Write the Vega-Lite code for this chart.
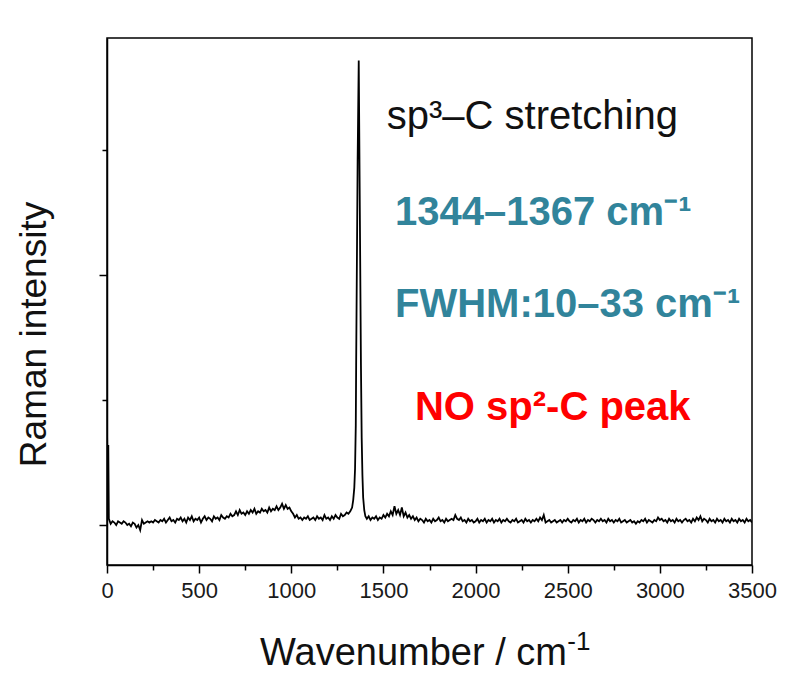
{
 "$schema": "https://vega.github.io/schema/vega-lite/v6.json",
 "width": 645,
 "height": 527,
 "autosize": {"type": "none"},
 "padding": {"left": 107, "top": 38, "right": 36, "bottom": 117},
 "background": "white",
 "config": {"view": {"stroke": "black", "strokeWidth": 1.5}, "font": "Liberation Sans"},
 "datasets": {
  "spectrum": [
   {"w":0,"i":0.77},{"w":4,"i":0.30},{"w":7,"i":0.64},{"w":10,"i":0.05},{"w":20,"i":0.01},{"w":30,"i":0.03},{"w":40,"i":0.02},{"w":50,"i":0.00},{"w":60,"i":0.03},{"w":70,"i":0.02},{"w":80,"i":0.01},{"w":90,"i":0.03},{"w":100,"i":0.02},{"w":110,"i":0.00},{"w":120,"i":0.01},{"w":130,"i":-0.01},{"w":140,"i":0.02},{"w":150,"i":0.01},{"w":160,"i":-0.02},{"w":170,"i":0.00},{"w":180,"i":-0.04},{"w":190,"i":0.04},{"w":200,"i":0.01},{"w":210,"i":0.02},{"w":220,"i":0.03},{"w":230,"i":0.02},{"w":240,"i":0.03},{"w":250,"i":0.02},{"w":260,"i":0.04},{"w":270,"i":0.03},{"w":280,"i":0.02},{"w":290,"i":0.04},{"w":300,"i":0.03},{"w":310,"i":0.05},{"w":320,"i":0.02},{"w":330,"i":0.04},{"w":340,"i":0.06},{"w":350,"i":0.03},{"w":360,"i":0.04},{"w":370,"i":0.02},{"w":380,"i":0.05},{"w":390,"i":0.04},{"w":400,"i":0.06},{"w":410,"i":0.03},{"w":420,"i":0.05},{"w":430,"i":0.02},{"w":440,"i":0.06},{"w":450,"i":0.04},{"w":460,"i":0.07},{"w":470,"i":0.03},{"w":480,"i":0.05},{"w":490,"i":0.04},{"w":500,"i":0.06},{"w":510,"i":0.02},{"w":520,"i":0.05},{"w":530,"i":0.07},{"w":540,"i":0.04},{"w":550,"i":0.06},{"w":560,"i":0.05},{"w":570,"i":0.03},{"w":580,"i":0.07},{"w":590,"i":0.05},{"w":600,"i":0.06},{"w":610,"i":0.04},{"w":620,"i":0.08},{"w":630,"i":0.06},{"w":640,"i":0.05},{"w":650,"i":0.07},{"w":660,"i":0.06},{"w":670,"i":0.09},{"w":680,"i":0.07},{"w":690,"i":0.08},{"w":700,"i":0.11},{"w":710,"i":0.08},{"w":720,"i":0.12},{"w":730,"i":0.09},{"w":740,"i":0.10},{"w":750,"i":0.08},{"w":760,"i":0.11},{"w":770,"i":0.09},{"w":780,"i":0.12},{"w":790,"i":0.10},{"w":800,"i":0.13},{"w":810,"i":0.09},{"w":820,"i":0.11},{"w":830,"i":0.10},{"w":840,"i":0.13},{"w":850,"i":0.11},{"w":860,"i":0.12},{"w":870,"i":0.10},{"w":880,"i":0.14},{"w":890,"i":0.11},{"w":900,"i":0.13},{"w":910,"i":0.12},{"w":920,"i":0.15},{"w":930,"i":0.12},{"w":940,"i":0.14},{"w":950,"i":0.17},{"w":960,"i":0.13},{"w":970,"i":0.16},{"w":980,"i":0.13},{"w":990,"i":0.14},{"w":1000,"i":0.11},{"w":1010,"i":0.09},{"w":1020,"i":0.06},{"w":1030,"i":0.08},{"w":1040,"i":0.05},{"w":1050,"i":0.06},{"w":1060,"i":0.04},{"w":1070,"i":0.06},{"w":1080,"i":0.05},{"w":1090,"i":0.07},{"w":1100,"i":0.04},{"w":1110,"i":0.05},{"w":1120,"i":0.06},{"w":1130,"i":0.04},{"w":1140,"i":0.07},{"w":1150,"i":0.05},{"w":1160,"i":0.06},{"w":1170,"i":0.04},{"w":1180,"i":0.08},{"w":1190,"i":0.05},{"w":1200,"i":0.06},{"w":1210,"i":0.04},{"w":1220,"i":0.07},{"w":1230,"i":0.05},{"w":1240,"i":0.08},{"w":1250,"i":0.06},{"w":1260,"i":0.05},{"w":1270,"i":0.09},{"w":1280,"i":0.07},{"w":1290,"i":0.08},{"w":1300,"i":0.10},{"w":1310,"i":0.09},{"w":1320,"i":0.11},{"w":1330,"i":0.14},{"w":1336,"i":0.2},{"w":1342,"i":0.3},{"w":1346,"i":0.45},{"w":1350,"i":0.8},{"w":1352,"i":1.28},{"w":1360,"i":2.92},{"w":1366,"i":3.72},{"w":1370,"i":2.92},{"w":1378,"i":1.28},{"w":1382,"i":0.7},{"w":1386,"i":0.4},{"w":1390,"i":0.22},{"w":1396,"i":0.12},{"w":1402,"i":0.07},{"w":1410,"i":0.05},{"w":1420,"i":0.07},{"w":1430,"i":0.04},{"w":1440,"i":0.06},{"w":1450,"i":0.05},{"w":1460,"i":0.07},{"w":1470,"i":0.04},{"w":1480,"i":0.06},{"w":1490,"i":0.05},{"w":1500,"i":0.08},{"w":1510,"i":0.06},{"w":1520,"i":0.09},{"w":1530,"i":0.07},{"w":1540,"i":0.11},{"w":1550,"i":0.08},{"w":1560,"i":0.15},{"w":1570,"i":0.09},{"w":1580,"i":0.12},{"w":1590,"i":0.08},{"w":1600,"i":0.14},{"w":1610,"i":0.07},{"w":1620,"i":0.10},{"w":1630,"i":0.06},{"w":1640,"i":0.08},{"w":1650,"i":0.05},{"w":1660,"i":0.07},{"w":1670,"i":0.04},{"w":1680,"i":0.06},{"w":1690,"i":0.03},{"w":1700,"i":0.05},{"w":1710,"i":0.04},{"w":1720,"i":0.02},{"w":1730,"i":0.05},{"w":1740,"i":0.03},{"w":1750,"i":0.04},{"w":1760,"i":0.02},{"w":1770,"i":0.05},{"w":1780,"i":0.03},{"w":1790,"i":0.04},{"w":1800,"i":0.06},{"w":1810,"i":0.03},{"w":1820,"i":0.04},{"w":1830,"i":0.02},{"w":1840,"i":0.05},{"w":1850,"i":0.03},{"w":1860,"i":0.04},{"w":1870,"i":0.05},{"w":1880,"i":0.04},{"w":1890,"i":0.08},{"w":1900,"i":0.05},{"w":1910,"i":0.04},{"w":1920,"i":0.06},{"w":1930,"i":0.03},{"w":1940,"i":0.04},{"w":1950,"i":0.02},{"w":1960,"i":0.05},{"w":1970,"i":0.03},{"w":1980,"i":0.04},{"w":1990,"i":0.02},{"w":2000,"i":0.03},{"w":2010,"i":0.05},{"w":2020,"i":0.02},{"w":2030,"i":0.04},{"w":2040,"i":0.03},{"w":2050,"i":0.05},{"w":2060,"i":0.02},{"w":2070,"i":0.04},{"w":2080,"i":0.03},{"w":2090,"i":0.05},{"w":2100,"i":0.02},{"w":2110,"i":0.04},{"w":2120,"i":0.03},{"w":2130,"i":0.05},{"w":2140,"i":0.02},{"w":2150,"i":0.04},{"w":2160,"i":0.03},{"w":2170,"i":0.05},{"w":2180,"i":0.03},{"w":2190,"i":0.02},{"w":2200,"i":0.04},{"w":2210,"i":0.03},{"w":2220,"i":0.05},{"w":2230,"i":0.02},{"w":2240,"i":0.03},{"w":2250,"i":0.04},{"w":2260,"i":0.02},{"w":2270,"i":0.05},{"w":2280,"i":0.03},{"w":2290,"i":0.04},{"w":2300,"i":0.02},{"w":2310,"i":0.04},{"w":2320,"i":0.03},{"w":2330,"i":0.05},{"w":2340,"i":0.03},{"w":2350,"i":0.06},{"w":2360,"i":0.04},{"w":2370,"i":0.08},{"w":2380,"i":0.02},{"w":2390,"i":0.03},{"w":2400,"i":0.04},{"w":2410,"i":0.02},{"w":2420,"i":0.03},{"w":2430,"i":0.04},{"w":2440,"i":0.02},{"w":2450,"i":0.03},{"w":2460,"i":0.04},{"w":2470,"i":0.02},{"w":2480,"i":0.04},{"w":2490,"i":0.03},{"w":2500,"i":0.05},{"w":2510,"i":0.03},{"w":2520,"i":0.02},{"w":2530,"i":0.04},{"w":2540,"i":0.03},{"w":2550,"i":0.05},{"w":2560,"i":0.02},{"w":2570,"i":0.04},{"w":2580,"i":0.03},{"w":2590,"i":0.05},{"w":2600,"i":0.02},{"w":2610,"i":0.04},{"w":2620,"i":0.03},{"w":2630,"i":0.05},{"w":2640,"i":0.04},{"w":2650,"i":0.02},{"w":2660,"i":0.04},{"w":2670,"i":0.03},{"w":2680,"i":0.05},{"w":2690,"i":0.03},{"w":2700,"i":0.04},{"w":2710,"i":0.02},{"w":2720,"i":0.05},{"w":2730,"i":0.03},{"w":2740,"i":0.04},{"w":2750,"i":0.02},{"w":2760,"i":0.04},{"w":2770,"i":0.03},{"w":2780,"i":0.05},{"w":2790,"i":0.02},{"w":2800,"i":0.03},{"w":2810,"i":0.04},{"w":2820,"i":0.02},{"w":2830,"i":0.03},{"w":2840,"i":0.04},{"w":2850,"i":0.02},{"w":2860,"i":0.03},{"w":2870,"i":0.01},{"w":2880,"i":0.03},{"w":2890,"i":0.02},{"w":2900,"i":0.04},{"w":2910,"i":0.03},{"w":2920,"i":0.05},{"w":2930,"i":0.02},{"w":2940,"i":0.04},{"w":2950,"i":0.03},{"w":2960,"i":0.02},{"w":2970,"i":0.04},{"w":2980,"i":0.03},{"w":2990,"i":0.06},{"w":3000,"i":0.04},{"w":3010,"i":0.05},{"w":3020,"i":0.03},{"w":3030,"i":0.04},{"w":3040,"i":0.02},{"w":3050,"i":0.05},{"w":3060,"i":0.03},{"w":3070,"i":0.04},{"w":3080,"i":0.02},{"w":3090,"i":0.05},{"w":3100,"i":0.03},{"w":3110,"i":0.04},{"w":3120,"i":0.02},{"w":3130,"i":0.04},{"w":3140,"i":0.05},{"w":3150,"i":0.03},{"w":3160,"i":0.04},{"w":3170,"i":0.02},{"w":3180,"i":0.05},{"w":3190,"i":0.03},{"w":3200,"i":0.06},{"w":3210,"i":0.04},{"w":3220,"i":0.07},{"w":3230,"i":0.03},{"w":3240,"i":0.05},{"w":3250,"i":0.04},{"w":3260,"i":0.02},{"w":3270,"i":0.05},{"w":3280,"i":0.03},{"w":3290,"i":0.04},{"w":3300,"i":0.02},{"w":3310,"i":0.05},{"w":3320,"i":0.03},{"w":3330,"i":0.04},{"w":3340,"i":0.02},{"w":3350,"i":0.05},{"w":3360,"i":0.03},{"w":3370,"i":0.04},{"w":3380,"i":0.02},{"w":3390,"i":0.05},{"w":3400,"i":0.03},{"w":3410,"i":0.04},{"w":3420,"i":0.02},{"w":3430,"i":0.05},{"w":3440,"i":0.03},{"w":3450,"i":0.04},{"w":3460,"i":0.02},{"w":3470,"i":0.05},{"w":3480,"i":0.03},{"w":3490,"i":0.04},{"w":3500,"i":0.02}
  ]
 },
 "layer": [
  {
   "data": {"name": "spectrum"},
   "mark": {"type": "line", "color": "black", "strokeWidth": 1.8, "clip": true},
   "encoding": {
    "x": {"field": "w", "type": "quantitative",
      "scale": {"domain": [0, 3500], "nice": false, "zero": false},
      "axis": {
        "values": [0,250,500,750,1000,1250,1500,1750,2000,2250,2500,2750,3000,3250,3500],
        "labelExpr": "datum.value % 500 === 0 ? datum.label : ''",
        "format": "d",
        "grid": false, "domainColor": "black", "domainWidth": 1.5,
        "tickColor": "black", "tickWidth": 1.5,
        "tickSize": {"condition": {"test": "datum.value % 500 === 0", "value": 8}, "value": 5},
        "labelFontSize": 22, "labelColor": "#1a1a1a", "labelPadding": 7,
        "labelFlush": false, "labelOverlap": false, "labelBound": false,
        "title": "Wavenumber / cm", "titleFontSize": 38, "titleFontWeight": "normal",
        "titleColor": "#111111", "titlePadding": 33, "titleX": 306
      }},
    "y": {"field": "i", "type": "quantitative",
      "scale": {"domain": [-0.32, 3.9], "nice": false, "zero": false},
      "axis": {
        "values": [0, 1, 2, 3], "labels": false,
        "grid": false, "domainColor": "black", "domainWidth": 1.5,
        "tickColor": "black", "tickWidth": 1.5,
        "tickSize": {"condition": {"test": "datum.value % 2 === 0", "value": 8}, "value": 5},
        "title": "Raman intensity", "titleFontSize": 37, "titleFontWeight": "normal",
        "titleColor": "#111111", "titlePadding": 45, "titleY": 296
      }}
   }
  },
  {
   "data": {"values": [{"w": 2498, "v": -1.0, "t": "-1"}]},
   "mark": {"type": "text", "align": "left", "baseline": "alphabetic", "font": "Liberation Sans", "fontSize": 26, "color": "#111111", "clip": false},
   "encoding": {"x": {"field": "w", "type": "quantitative"}, "y": {"field": "v", "type": "quantitative"}, "text": {"field": "t"}}
  },
  {
   "data": {"values": [{"w": 1518, "v": 3.168, "t": "sp³–C stretching"}]},
   "mark": {"type": "text", "align": "left", "baseline": "alphabetic", "font": "Liberation Sans", "fontSize": 40, "color": "#111111"},
   "encoding": {"x": {"field": "w", "type": "quantitative"}, "y": {"field": "v", "type": "quantitative"}, "text": {"field": "t"}}
  },
  {
   "data": {"values": [{"w": 1563, "v": 2.4, "t": "1344–1367 cm⁻¹"}, {"w": 1563, "v": 1.667, "t": "FWHM:10–33 cm⁻¹"}]},
   "mark": {"type": "text", "align": "left", "baseline": "alphabetic", "font": "Liberation Sans", "fontSize": 40, "fontWeight": "bold", "color": "#31849B"},
   "encoding": {"x": {"field": "w", "type": "quantitative"}, "y": {"field": "v", "type": "quantitative"}, "text": {"field": "t"}}
  },
  {
   "data": {"values": [{"w": 1671, "v": 0.84, "t": "NO sp²-C peak"}]},
   "mark": {"type": "text", "align": "left", "baseline": "alphabetic", "font": "Liberation Sans", "fontSize": 40, "fontWeight": "bold", "color": "#FF0000"},
   "encoding": {"x": {"field": "w", "type": "quantitative"}, "y": {"field": "v", "type": "quantitative"}, "text": {"field": "t"}}
  }
 ]
}
